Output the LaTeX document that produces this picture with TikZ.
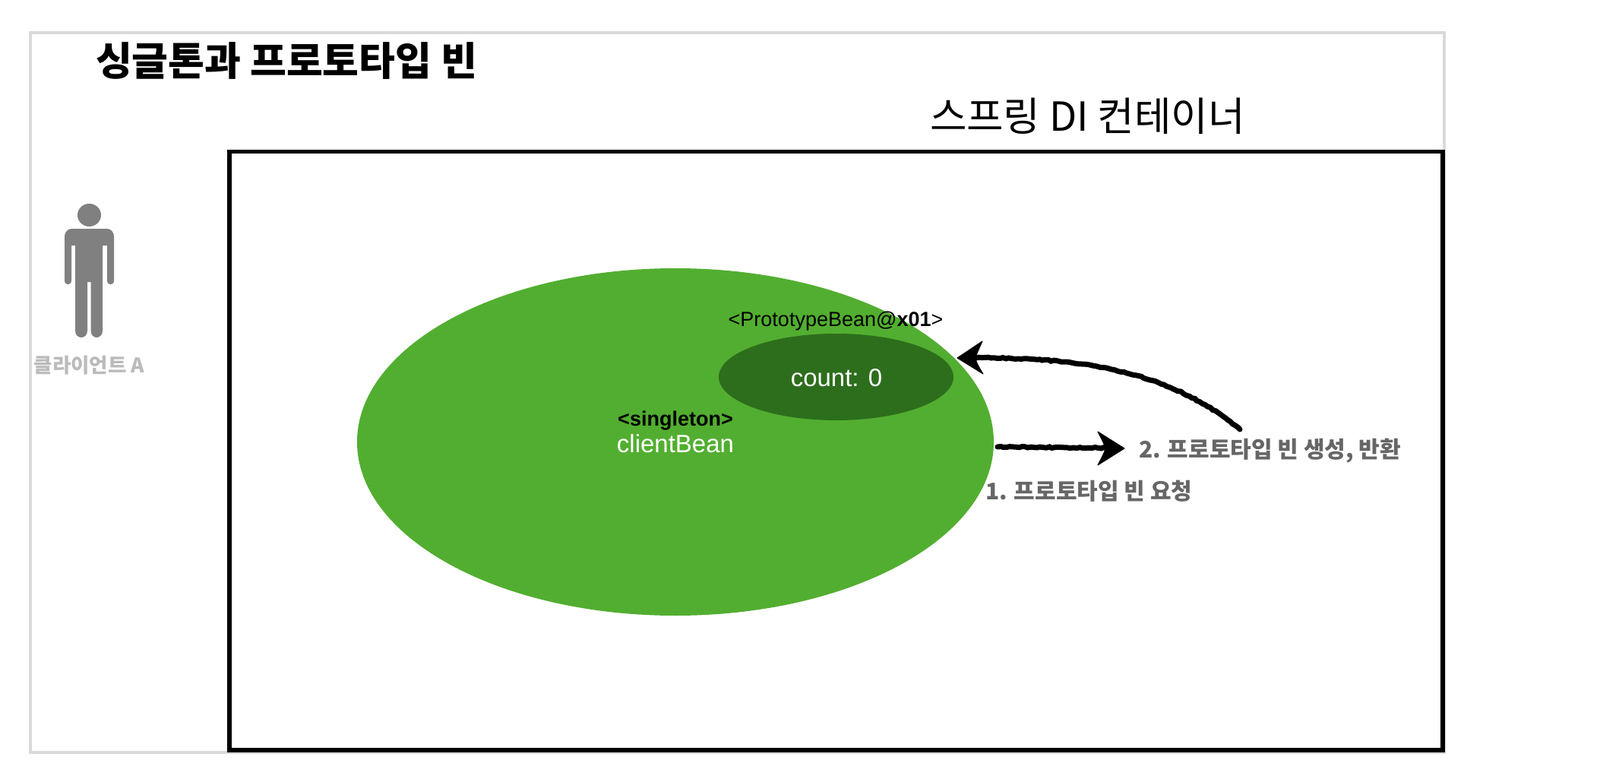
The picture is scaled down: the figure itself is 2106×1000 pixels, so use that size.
\documentclass[tikz,border=0pt]{standalone}
\usepackage{fontspec}
\usetikzlibrary{shapes.geometric,decorations.pathmorphing}
\setmainfont{Liberation Sans}
\newfontfamily\krfont{Noto Sans CJK KR}
\definecolor{framegray}{HTML}{D9D9D9}
\definecolor{beangreen}{HTML}{52AE30}
\definecolor{darkgreen}{HTML}{2D6E1C}
\definecolor{persongray}{HTML}{808080}
\definecolor{clientgray}{HTML}{BBBBBB}
\definecolor{stepgray}{HTML}{666666}
\newcommand{\fsz}[1]{\fontsize{#1}{#1}\selectfont}
\tikzset{
  oval/.style={ellipse,inner sep=0pt,outer sep=0pt,draw=none},
  txt/.style={inner sep=0pt,outer sep=0pt,anchor=center},
  rough/.style={draw=black,line width=7pt,line cap=round,
    decorate,decoration={random steps,segment length=4pt,amplitude=0.8pt}},
  headfill/.style={fill=black,draw=black,line width=1pt,line join=round},
}
\begin{document}
\begin{tikzpicture}[x=1pt,y=-1pt]
\useasboundingbox (0,0) rectangle (2106,1000);
\fill[white] (0,0) rectangle (2106,1000);
\draw[framegray,line width=3.5pt] (40,43) rectangle (1901,990);
\draw[black,line width=5.5pt] (302,199.5) rectangle (1899,987);
\node[txt,anchor=west] (title) at (126,80) {\krfont\bfseries\fsz{52}싱글톤과 프로토타입 빈};
\node[txt,anchor=west] (container) at (1224,153) {\krfont\fsz{52.7}스프링 DI 컨테이너};
% person
\fill[persongray] (117.5,283) ellipse [x radius=15.5,y radius=15];
\fill[persongray] (94,301) -- (141,301) .. controls (146,301) and (150,306) .. (150,311)
  -- (150,369) .. controls (150,376) and (141,376) .. (141,369) -- (141,323) -- (135,323)
  -- (135,435) .. controls (135,447) and (119.5,447) .. (119.5,435) -- (119.5,371) -- (115,371)
  -- (115,435) .. controls (115,447) and (99,447) .. (99,435) -- (99,323) -- (94,323)
  -- (94,369) .. controls (94,376) and (85,376) .. (85,369) -- (85,311)
  .. controls (85,306) and (89,301) .. (94,301) -- cycle;
\node[txt,text=clientgray] (client) at (117.5,481) {\krfont\bfseries\fsz{26.5}클라이언트 A};
% beans
\node[oval,fill=beangreen,minimum width=838pt,minimum height=457pt] (client bean) at (889,581.5) {};
\node[oval,fill=darkgreen,minimum width=309pt,minimum height=114pt] (proto) at (1100.5,496) {};
\node[txt,text=black] (protolabel) at (1100,423) {\fsz{27}<PrototypeBean@\textbf{x01}>};
\node[txt,text=white] (count) at (1101,497) {\fsz{33}count: 0};
\node[txt,text=black] (singleton) at (889,554) {\fsz{27}\textbf{<singleton>}};
\node[txt,text=white] (clientbean) at (889,584) {\fsz{33}clientBean};
% labels
\node[txt,text=stepgray,anchor=west] (step1) at (1297,646) {\krfont\bfseries\fsz{30}1. 프로토타입 빈 요청};
\node[txt,text=stepgray,anchor=west] (step2) at (1499,593) {\krfont\bfseries\fsz{30}2. 프로토타입 빈 생성, 반환};
% arrows
\coordinate (a1s) at (1313,588);
\coordinate (a1e) at (1480,590);
\coordinate (a2s) at (1632,565);
\coordinate (a2e) at (1260,471);
\path[rough] (a1s) -- (1462,589.5);
\fill[headfill] (a1e) -- (1445,568)
  .. controls (1450,578) and (1454,585) .. (1455,590)
  .. controls (1454,595) and (1450,602) .. (1445,612) -- (a1e) -- cycle;
\path[rough] (a2s) .. controls (1530,480) and (1400,470) .. (1275,471);
\fill[headfill] (a2e) -- (1293,449)
  .. controls (1289,458) and (1285,466) .. (1284,471.5)
  .. controls (1285,477) and (1289,484) .. (1294,492) -- (a2e) -- cycle;
\end{tikzpicture}
\end{document}
